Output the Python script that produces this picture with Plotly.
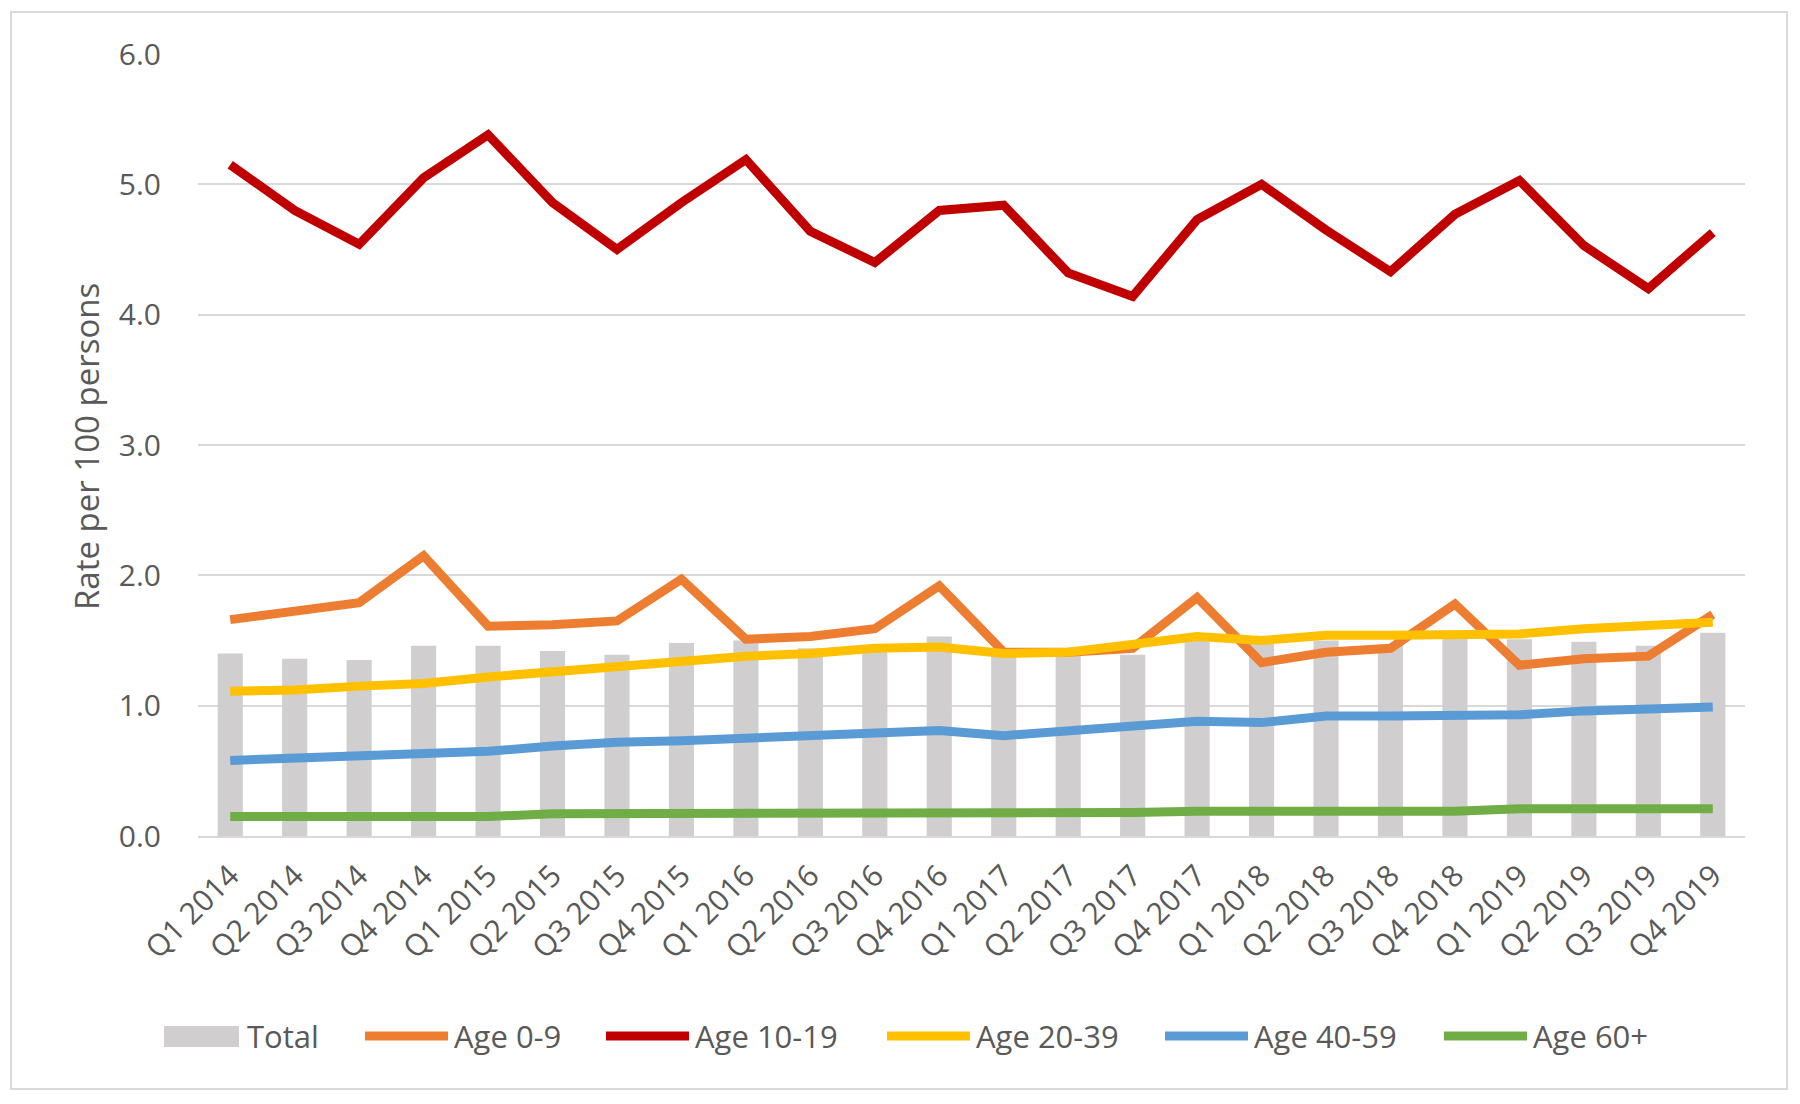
import plotly.graph_objects as go

quarters = ["Q1 2014", "Q2 2014", "Q3 2014", "Q4 2014",
            "Q1 2015", "Q2 2015", "Q3 2015", "Q4 2015",
            "Q1 2016", "Q2 2016", "Q3 2016", "Q4 2016",
            "Q1 2017", "Q2 2017", "Q3 2017", "Q4 2017",
            "Q1 2018", "Q2 2018", "Q3 2018", "Q4 2018",
            "Q1 2019", "Q2 2019", "Q3 2019", "Q4 2019"]

total = [1.40, 1.36, 1.35, 1.46, 1.46, 1.42, 1.39, 1.48, 1.50, 1.44, 1.45, 1.53,
         1.41, 1.40, 1.39, 1.50, 1.48, 1.50, 1.47, 1.53, 1.51, 1.49, 1.46, 1.56]
age_0_9 = [1.66, 1.73, 1.79, 2.15, 1.61, 1.62, 1.65, 1.97, 1.51, 1.53, 1.59, 1.92,
           1.41, 1.41, 1.44, 1.83, 1.33, 1.41, 1.44, 1.78, 1.31, 1.36, 1.38, 1.70]
age_10_19 = [5.15, 4.80, 4.54, 5.05, 5.38, 4.86, 4.50, 4.86, 5.19, 4.64, 4.40, 4.80,
             4.84, 4.32, 4.14, 4.73, 5.00, 4.65, 4.33, 4.77, 5.03, 4.53, 4.20, 4.63]
age_20_39 = [1.11, 1.12, 1.15, 1.17, 1.22, 1.26, 1.30, 1.33, 1.38, 1.40, 1.44, 1.45,
             1.40, 1.41, 1.47, 1.53, 1.50, 1.54, 1.54, 1.55, 1.55, 1.59, 1.61, 1.64]
age_40_59 = [0.58, 0.60, 0.61, 0.63, 0.65, 0.69, 0.72, 0.73, 0.75, 0.78, 0.80, 0.81,
             0.77, 0.81, 0.85, 0.88, 0.87, 0.92, 0.92, 0.93, 0.93, 0.96, 0.97, 0.99]
age_60_plus = [0.15, 0.15, 0.14, 0.14, 0.15, 0.17, 0.17, 0.17, 0.18, 0.18, 0.18, 0.18,
               0.18, 0.18, 0.18, 0.19, 0.19, 0.19, 0.19, 0.19, 0.21, 0.21, 0.21, 0.21]

y_ticks = [0, 1, 2, 3, 4, 5, 6]

series_names = ["Age 0-9", "Age 10-19", "Age 20-39", "Age 40-59", "Age 60+"]
series_values = [age_0_9, age_10_19, age_20_39, age_40_59, age_60_plus]
series_colors = ["#ED7D31", "#C00000", "#FFC000", "#5B9BD5", "#70AD47"]
bar_color = "#D0CECE"
text_color = "#595959"
grid_color = "#D9D9D9"
FONT = "Open Sans, Noto Sans, sans-serif"

OFF = 8  # page body margin
W, H = 1800 - OFF, 1104 - OFF
L, R, T, B = 198, 1745, 54, 836  # plot area in screen pixels


def px_x(x):
    return (x - L) / (R - L)


def px_y(y):
    return (B - y) / (B - T)


fig = go.Figure()
fig.add_trace(go.Bar(x=quarters, y=total, name="Total", marker_color=bar_color,
                     marker_line_width=0, showlegend=False))
for name, vals, col in zip(series_names, series_values, series_colors):
    fig.add_trace(go.Scatter(x=quarters, y=vals, name=name, mode="lines",
                             line=dict(color=col, width=9), showlegend=False))

shapes = []
annotations = []

# outer border
shapes.append(dict(type="rect", xref="paper", yref="paper",
                   x0=px_x(11), x1=px_x(1787), y0=px_y(1089), y1=px_y(12),
                   line=dict(color=grid_color, width=2), fillcolor="rgba(0,0,0,0)",
                   layer="below"))

# custom legend
leg_y = 1036
shapes.append(dict(type="rect", xref="paper", yref="paper",
                   x0=px_x(164), x1=px_x(239), y0=px_y(1047), y1=px_y(1026),
                   line=dict(width=0), fillcolor=bar_color))
annotations.append(dict(text="Total", xref="paper", yref="paper", x=px_x(245), y=px_y(leg_y),
                        xanchor="left", yanchor="middle", showarrow=False,
                        font=dict(family=FONT, size=31, color=text_color)))
leg_lines = [(365, 448, 452), (606, 689, 693), (887, 970, 974), (1165, 1248, 1252), (1444, 1527, 1531)]
for (x0, x1, xt), name, col in zip(leg_lines, series_names, series_colors):
    shapes.append(dict(type="line", xref="paper", yref="paper",
                       x0=px_x(x0), x1=px_x(x1), y0=px_y(leg_y), y1=px_y(leg_y),
                       line=dict(color=col, width=9)))
    annotations.append(dict(text=name, xref="paper", yref="paper", x=px_x(xt), y=px_y(leg_y),
                            xanchor="left", yanchor="middle", showarrow=False,
                            font=dict(family=FONT, size=31, color=text_color)))

# y-axis title
annotations.append(dict(text="Rate per 100 persons", xref="paper", yref="paper",
                        x=px_x(86), y=px_y(446), textangle=-90, showarrow=False,
                        xanchor="center", yanchor="middle",
                        font=dict(family=FONT, size=33, color=text_color)))

fig.update_layout(
    width=W, height=H, autosize=False,
    margin=dict(l=L - OFF, r=1800 - R, t=T - OFF, b=1104 - B, pad=0),
    paper_bgcolor="white", plot_bgcolor="white",
    bargap=0.61,
    font=dict(family=FONT, color=text_color),
    shapes=shapes, annotations=annotations,
    showlegend=False,
)
fig.update_xaxes(type="category", tickangle=-45, showgrid=False,
                 showline=True, linecolor=grid_color, linewidth=2,
                 ticks="outside", ticklen=8, tickcolor="rgba(0,0,0,0)",
                 tickfont=dict(family=FONT, size=30, color=text_color))
fig.update_yaxes(range=[0, 6], tickvals=y_ticks, tickformat=".1f",
                 showgrid=True, gridcolor=grid_color, gridwidth=2,
                 zeroline=False, showline=False,
                 ticks="outside", ticklen=30, tickcolor="rgba(0,0,0,0)",
                 tickfont=dict(family=FONT, size=30, color=text_color))

fig.write_html("out.html")
